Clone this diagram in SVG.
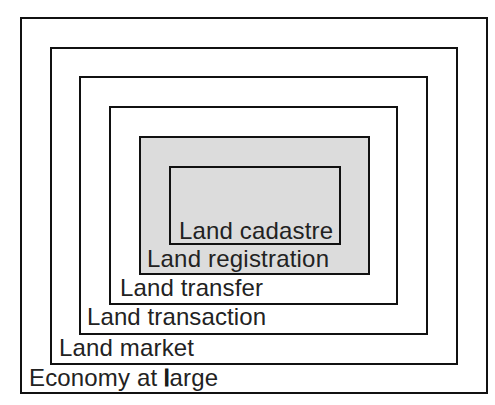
<svg xmlns="http://www.w3.org/2000/svg" width="495" height="405" viewBox="0 0 495 405">
<style>
.box{fill:none;stroke:#111;stroke-width:2}
.gray{fill:#dcdcdc;stroke:#111;stroke-width:2}
.lbl{font-family:"Liberation Sans",Arial,sans-serif;font-size:24px;fill:#222}
</style>
<rect x="0" y="0" width="495" height="405" fill="#fff"/>
<g id="economy">
<rect class="box" x="21" y="18" width="466" height="375"/>
<text class="lbl" x="29" y="386" textLength="189" lengthAdjust="spacing">Economy at <tspan style="stroke:#111;stroke-width:1.2">l</tspan>arge</text>
</g>
<g id="market">
<rect class="box" x="51" y="48" width="406" height="316"/>
<text class="lbl" x="59" y="356" textLength="135" lengthAdjust="spacing">Land market</text>
</g>
<g id="transaction">
<rect class="box" x="80" y="77" width="347" height="257"/>
<text class="lbl" x="87" y="325" textLength="179" lengthAdjust="spacing">Land transaction</text>
</g>
<g id="transfer">
<rect class="box" x="110" y="107" width="287" height="197"/>
<text class="lbl" x="120" y="296" textLength="143" lengthAdjust="spacing">Land transfer</text>
</g>
<g id="registration">
<rect class="gray" x="140" y="137" width="229" height="137"/>
<text class="lbl" x="147" y="267" textLength="182" lengthAdjust="spacing">Land registration</text>
</g>
<g id="cadastre">
<rect class="gray" x="170" y="167" width="170" height="77"/>
<text class="lbl" x="179" y="239" textLength="154" lengthAdjust="spacing">Land cadastre</text>
</g>
<g id="connectors"></g>
</svg>
